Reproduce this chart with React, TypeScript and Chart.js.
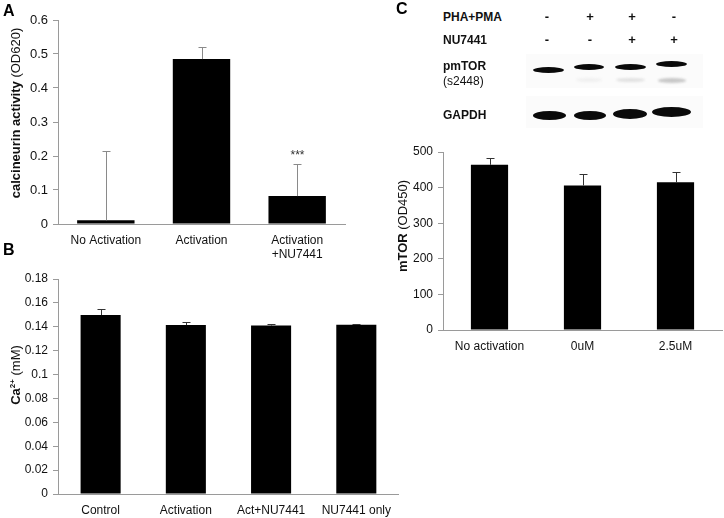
import React, { useEffect, useRef } from "react";
import { Chart, registerables } from "chart.js";
Chart.register(...registerables);

// ---------- DATA ----------
const CATS_A: (string | string[])[] = ["No Activation", "Activation", ["Activation", "+NU7441"]];
const VALS_A = [0.011, 0.485, 0.082];
const ERR_A = [0.203, 0.035, 0.093];
const TICKS_A = [0, 0.1, 0.2, 0.3, 0.4, 0.5, 0.6];

const CATS_B = ["Control", "Activation", "Act+NU7441", "NU7441 only"];
const VALS_B = [0.1498, 0.1414, 0.141, 0.1417];
const ERR_B = [0.0051, 0.0022, 0.0015, 0.0008];
const TICKS_B = [0, 0.02, 0.04, 0.06, 0.08, 0.1, 0.12, 0.14, 0.16, 0.18];

const CATS_C = ["No activation", "0uM", "2.5uM"];
const VALS_C = [464, 406, 415];
const ERR_C = [18, 32, 28];
const TICKS_C = [0, 100, 200, 300, 400, 500];

const BLOT_ROW_PHA = ["-", "+", "+", "-"];
const BLOT_ROW_NU = ["-", "-", "+", "+"];

const FONT = "'Liberation Sans', Arial, Helvetica, sans-serif";

const errPlugin = {
  id: "errbars",
  afterDatasetsDraw(chart: any, _args: any, opts: any) {
    const meta = chart.getDatasetMeta(0);
    const ys = chart.scales.y;
    const ctx = chart.ctx;
    ctx.save();
    ctx.strokeStyle = opts.color;
    ctx.lineWidth = 1;
    meta.data.forEach((el: any, i: number) => {
      const v = opts.values[i];
      const top = ys.getPixelForValue(v + opts.errs[i]);
      const base = ys.getPixelForValue(v);
      const x = Math.round(el.x) + 0.5;
      ctx.beginPath();
      ctx.moveTo(x, base);
      ctx.lineTo(x, Math.round(top) + 0.5);
      ctx.moveTo(x - opts.cap, Math.round(top) + 0.5);
      ctx.lineTo(x + opts.cap, Math.round(top) + 0.5);
      ctx.stroke();
      if (opts.stars && opts.stars[i]) {
        ctx.fillStyle = "#333";
        ctx.font = "12px " + FONT;
        ctx.textAlign = "center";
        ctx.textBaseline = "bottom";
        ctx.fillText(opts.stars[i], x, top - 3);
      }
    });
    ctx.restore();
  },
};

type PanelProps = {
  left: number; top: number; width: number; height: number;
  yWidth: number; xHeight: number; padTop: number; padRight: number;
  cats: any[]; vals: number[]; errs: number[]; ticks: number[];
  min: number; max: number; barPct: number; errColor: string;
  tickSize: number; stars?: string[]; xPad: number;
};

function Panel(p: PanelProps) {
  const ref = useRef<HTMLCanvasElement>(null);
  useEffect(() => {
    const axisColor = "#9a9a9a";
    const chart = new Chart(ref.current as HTMLCanvasElement, {
      type: "bar",
      data: {
        labels: p.cats,
        datasets: [{ data: p.vals, backgroundColor: "#000", borderWidth: 0, barPercentage: p.barPct, categoryPercentage: 1 }],
      },
      options: {
        animation: false,
        responsive: false,
        maintainAspectRatio: false,
        devicePixelRatio: 1,
        layout: { padding: { top: p.padTop, right: p.padRight, left: 0, bottom: 0 } },
        plugins: {
          legend: { display: false },
          tooltip: { enabled: false },
          errbars: { values: p.vals, errs: p.errs, color: p.errColor, cap: 4, stars: p.stars },
        } as any,
        scales: {
          x: {
            grid: { display: false, drawTicks: false },
            border: { display: true, color: axisColor, width: 1 },
            ticks: { color: "#111", font: { family: FONT, size: 12 }, padding: p.xPad, maxRotation: 0, autoSkip: false },
            afterFit: (s: any) => { s.height = p.xHeight; },
          },
          y: {
            min: p.min,
            max: p.max,
            afterBuildTicks: (s: any) => { s.ticks = p.ticks.map((v) => ({ value: v })); },
            grid: { display: true, drawOnChartArea: false, drawTicks: true, tickLength: 5, color: axisColor },
            border: { display: true, color: axisColor, width: 1 },
            ticks: {
              color: "#111",
              font: { family: FONT, size: p.tickSize },
              padding: 5,
              callback: (v: any) => String(+Number(v).toFixed(3)),
            },
            afterFit: (s: any) => { s.width = p.yWidth; },
          },
        },
      },
      plugins: [errPlugin],
    });
    return () => chart.destroy();
  }, []);
  return (
    <canvas
      ref={ref}
      width={p.width}
      height={p.height}
      style={{ position: "absolute", left: p.left, top: p.top, width: p.width, height: p.height }}
    />
  );
}

const abs = (l: number, t: number, extra: any = {}) => ({ position: "absolute" as const, left: l, top: t, ...extra });

function VTitle({ x, y, children }: { x: number; y: number; children: any }) {
  return (
    <div
      style={{
        position: "absolute", left: x, top: y, transform: "translate(-50%,-50%) rotate(-90deg)",
        whiteSpace: "nowrap", fontFamily: FONT, fontSize: 13, color: "#111", lineHeight: "14px",
      }}
    >
      {children}
    </div>
  );
}

function Band({ x1, x2, y, h, color = "#0a0a0a", blur = 0.7 }: any) {
  return (
    <div
      style={{
        position: "absolute", left: x1, top: y - h / 2, width: x2 - x1, height: h,
        background: color, borderRadius: "50%", filter: `blur(${blur}px)`,
      }}
    />
  );
}

const LANES = [547, 590, 632, 674];

export default function App() {
  const bold = { fontWeight: "bold" as const };
  return (
    <div style={{ position: "absolute", left: 0, top: 0, width: 724, height: 518, background: "#fff", fontFamily: FONT, overflow: "hidden" }}>
      <Panel left={0} top={0} width={370} height={262} yWidth={58} xHeight={38} padTop={20} padRight={25}
        cats={CATS_A} vals={VALS_A} errs={ERR_A} ticks={TICKS_A} min={0} max={0.6} barPct={0.6}
        errColor="#8a8a8a" tickSize={13} stars={["", "", "***"]} xPad={9} />
      <Panel left={0} top={250} width={400} height={268} yWidth={58} xHeight={24} padTop={29} padRight={0}
        cats={CATS_B} vals={VALS_B} errs={ERR_B} ticks={TICKS_B} min={0} max={0.18} barPct={0.47}
        errColor="#333" tickSize={12} xPad={9} />
      <Panel left={370} top={130} width={354} height={240} yWidth={73} xHeight={40} padTop={22} padRight={2}
        cats={CATS_C} vals={VALS_C} errs={ERR_C} ticks={TICKS_C} min={0} max={500} barPct={0.4}
        errColor="#333" tickSize={12} xPad={9} />

      <VTitle x={16} y={113}><span style={bold}>calcineurin activity</span> (OD620)</VTitle>
      <VTitle x={16} y={375}><span style={bold}>Ca<sup style={{ fontSize: 8, lineHeight: 0 }}>2+</sup></span> (mM)</VTitle>
      <VTitle x={403} y={226}><span style={bold}>mTOR</span> (OD450)</VTitle>

      <div style={abs(3, 2, { fontSize: 16, fontWeight: "bold", color: "#000" })}>A</div>
      <div style={abs(3, 241, { fontSize: 16, fontWeight: "bold", color: "#000" })}>B</div>
      <div style={abs(396, 0, { fontSize: 16, fontWeight: "bold", color: "#000" })}>C</div>

      {/* Western blot */}
      <div style={abs(526, 54, { width: 177, height: 34, background: "#fbfbfb" })} />
      <div style={abs(526, 96, { width: 177, height: 32, background: "#fbfbfb" })} />

      <div style={abs(443, 10, { fontSize: 12, fontWeight: "bold", color: "#111" })}>PHA+PMA</div>
      <div style={abs(443, 33, { fontSize: 12, fontWeight: "bold", color: "#111" })}>NU7441</div>
      {BLOT_ROW_PHA.map((s, i) => (
        <div key={"p" + i} style={abs(LANES[i] - 5, 9, { width: 10, textAlign: "center", fontSize: 13, fontWeight: "bold", color: "#111" })}>{s}</div>
      ))}
      {BLOT_ROW_NU.map((s, i) => (
        <div key={"n" + i} style={abs(LANES[i] - 5, 32, { width: 10, textAlign: "center", fontSize: 13, fontWeight: "bold", color: "#111" })}>{s}</div>
      ))}
      <div style={abs(443, 59, { fontSize: 12, fontWeight: "bold", color: "#111" })}>pmTOR</div>
      <div style={abs(443, 74, { fontSize: 12, color: "#111" })}>(s2448)</div>
      <div style={abs(443, 108, { fontSize: 12, fontWeight: "bold", color: "#111" })}>GAPDH</div>

      <Band x1={533} x2={564} y={70} h={6} />
      <Band x1={574} x2={604} y={67} h={6} />
      <Band x1={615} x2={646} y={67} h={6} />
      <Band x1={656} x2={687} y={64} h={6} />
      <Band x1={576} x2={602} y={80} h={4} color="#f0f0f0" blur={1} />
      <Band x1={616} x2={645} y={80} h={4} color="#e2e2e2" blur={1} />
      <Band x1={658} x2={686} y={80} h={5} color="#c8c8c8" blur={1} />

      <Band x1={533} x2={566} y={115} h={9} />
      <Band x1={574} x2={606} y={115} h={9} />
      <Band x1={613} x2={647} y={114} h={10} />
      <Band x1={652} x2={691} y={112} h={10} />
    </div>
  );
}
